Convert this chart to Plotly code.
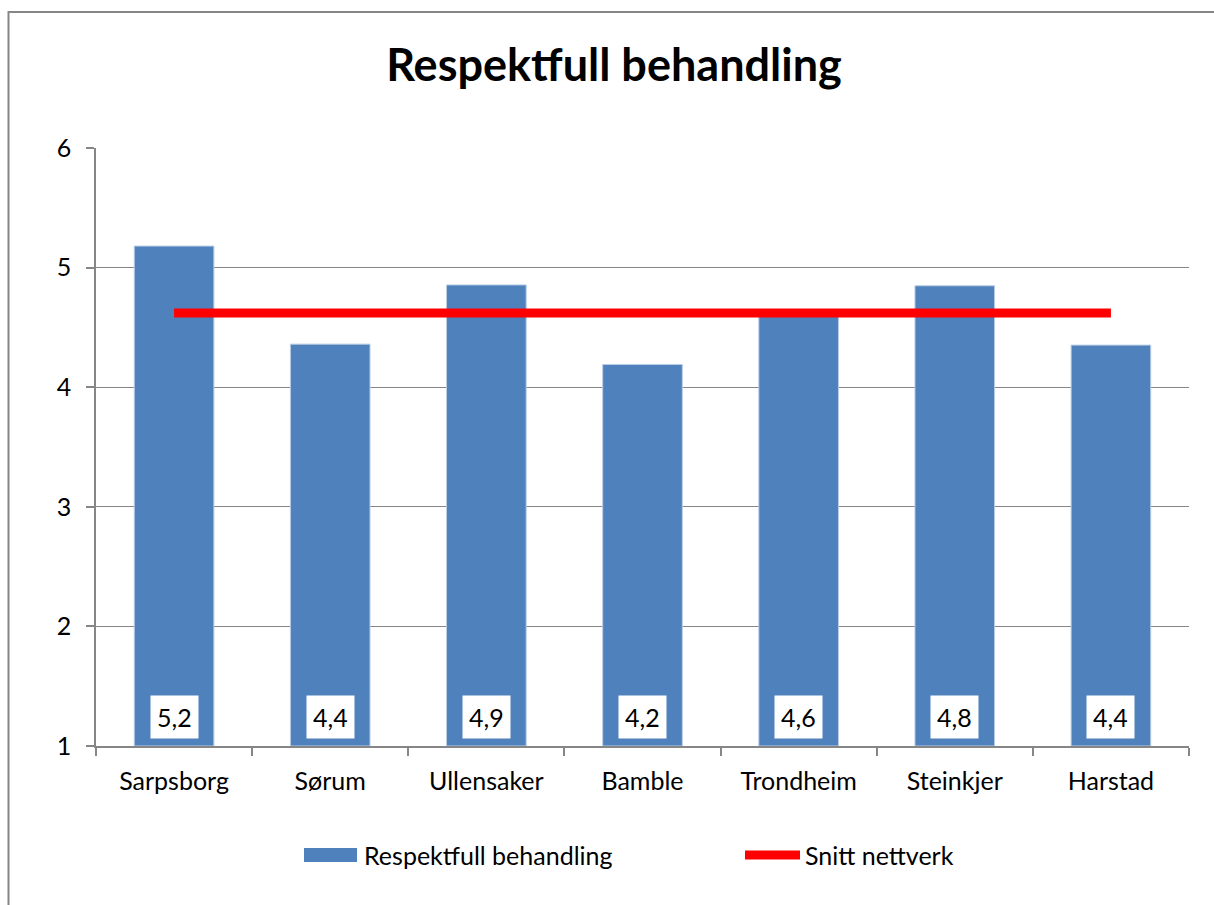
import plotly.graph_objects as go

categories = ["Sarpsborg", "Sørum", "Ullensaker", "Bamble", "Trondheim", "Steinkjer", "Harstad"]
values = [5.18, 4.36, 4.855, 4.19, 4.62, 4.848, 4.352]
avg_values = [4.62] * 7
bar_name = "Respektfull behandling"
line_name = "Snitt nettverk"
title_text = "Respektfull behandling"
y_ticks = [1, 2, 3, 4, 5, 6]

FONT = "Lato"
FS = 25
W, H = 1214, 905
L, R, T, B = 96, 1189, 148, 746

def px(x):
    return (x - L) / (R - L)

def py(y):
    return (B - y) / (B - T)

fig = go.Figure()
fig.add_trace(go.Bar(
    x=categories, y=[v - 1 for v in values], base=1, name=bar_name,
    marker=dict(color="#4f81bd", line=dict(color="#b9cde5", width=1)),
    width=0.51, showlegend=False, hoverinfo="skip",
))
fig.add_trace(go.Scatter(
    x=categories, y=avg_values, name=line_name, mode="lines",
    line=dict(color="#ff0000", width=9), showlegend=False,
))

for c, v in zip(categories, values):
    fig.add_annotation(
        x=c, y=1, xref="x", yref="y", yanchor="bottom", yshift=7,
        text=f"{v:.1f}".replace(".", ","), showarrow=False,
        bgcolor="white", borderpad=6,
        font=dict(family=FONT, size=FS, color="black"),
    )

shapes = [
    dict(type="line", xref="paper", yref="paper",
         x0=px(8.5), x1=px(1214), y0=py(12), y1=py(12),
         line=dict(color="#868686", width=2), layer="below"),
    dict(type="line", xref="paper", yref="paper",
         x0=px(8.5), x1=px(8.5), y0=py(11), y1=py(H),
         line=dict(color="#868686", width=2), layer="below"),
    dict(type="rect", xref="paper", yref="paper",
         x0=px(304), x1=px(357), y0=py(862), y1=py(848),
         line=dict(width=0), fillcolor="#4f81bd"),
    dict(type="line", xref="paper", yref="paper",
         x0=px(745), x1=px(800), y0=py(855), y1=py(855),
         line=dict(color="#ff0000", width=9)),
]
fig.add_annotation(x=px(362), y=py(855), xref="paper", yref="paper",
                   xanchor="left", yanchor="middle", text=bar_name, showarrow=False,
                   font=dict(family=FONT, size=FS, color="black"))
fig.add_annotation(x=px(803), y=py(855), xref="paper", yref="paper",
                   xanchor="left", yanchor="middle", text=line_name, showarrow=False,
                   font=dict(family=FONT, size=FS, color="black"))

fig.update_layout(
    width=W, height=H,
    margin=dict(l=L, r=W - R, t=T, b=H - B, pad=0),
    paper_bgcolor="white", plot_bgcolor="white",
    font=dict(family=FONT, size=FS, color="black"),
    title=dict(text=f"<b>{title_text}</b>", x=614 / W, xref="container", xanchor="center",
               y=1 - 65 / H, yref="container", yanchor="middle",
               font=dict(family=FONT, size=45, color="black")),
    shapes=shapes,
    showlegend=False,
    bargap=0.49,
)
fig.update_xaxes(
    showline=True, linecolor="#868686", linewidth=1.5,
    ticks="outside", ticklen=8, tickcolor="#868686", tickwidth=1.5,
    tickson="boundaries", showgrid=False, ticklabelstandoff=12,
    tickfont=dict(family=FONT, size=FS, color="black"),
)
fig.update_yaxes(
    range=[1, 6], tickvals=y_ticks,
    showline=True, linecolor="#868686", linewidth=1.5,
    ticks="outside", ticklen=8, tickcolor="#868686", tickwidth=1.5,
    showgrid=True, gridcolor="#868686", gridwidth=1.2,
    zeroline=False, ticklabelstandoff=10,
    tickfont=dict(family=FONT, size=FS, color="black"),
)
fig.write_html("out.html")
